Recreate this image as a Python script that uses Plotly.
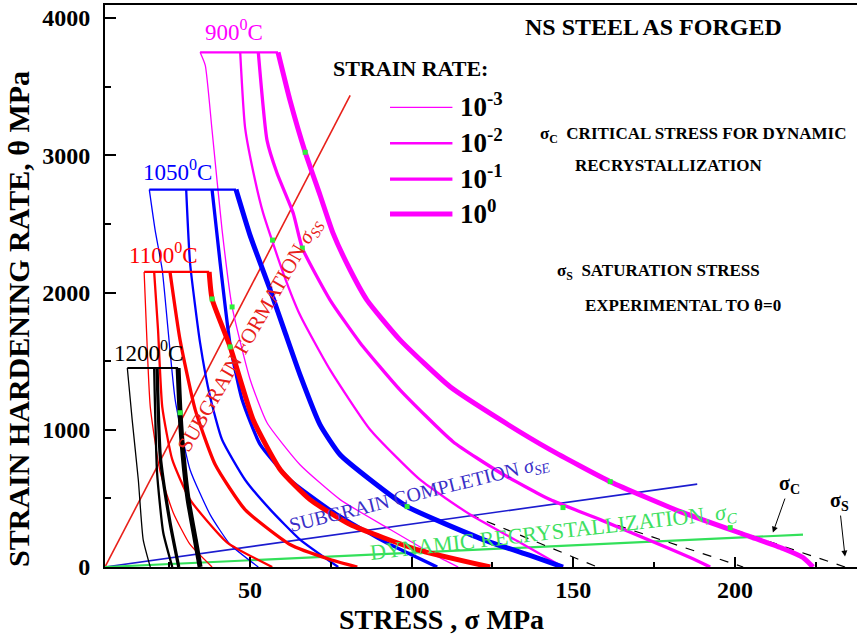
import plotly.graph_objects as go

# ---- strain hardening rate curves (stress in MPa, theta in MPa) ----
rates = ["-3", "-2", "-1", "0"]

sig_900 = [
    [34.6, 36.2, 38.3, 41.4, 44.5, 50.1, 55.3, 65.5, 77.9, 93.4, 105.7, 114.4],
    [47.0, 48.5, 51.6, 54.1, 60.3, 65.5, 74.8, 87.2, 102.6, 118.1, 133.5, 146.8],
    [52.6, 55.3, 58.4, 63.4, 66.2, 74.8, 84.1, 96.4, 112.8, 127.4, 142.8, 158.3, 173.7, 186.1, 192.3],
    [58.7, 62.4, 67.1, 71.7, 75.7, 81.0, 86.2, 96.4, 111.9, 127.4, 142.8, 161.4, 183.9, 204.6, 214.8, 221.0, 224.1],
]
th_900 = [
    [3750, 3655, 3182, 2455, 1895, 1364, 1051, 745, 491, 273, 105, 0],
    [3750, 3204, 2818, 2578, 2142, 1836, 1436, 1000, 636, 382, 178, 0],
    [3750, 3109, 2869, 2578, 2324, 1945, 1633, 1291, 913, 687, 491, 345, 193, 69, 0],
    [3750, 3400, 3022, 2709, 2433, 2164, 1945, 1655, 1313, 1073, 855, 622, 396, 222, 135, 69, 0],
]

sig_1050 = [
    [18.9, 20.7, 22.9, 24.7, 26.9, 31.5, 37.7, 43.9, 52.6],
    [30.3, 31.5, 34.6, 37.7, 41.4, 48.5, 56.3, 65.5, 77.3],
    [38.3, 40.8, 43.9, 47.6, 53.2, 62.4, 74.8, 90.3, 107.9],
    [45.7, 50.0, 56.3, 61.0, 65.5, 71.7, 77.9, 87.2, 98.6, 122.1, 136.6, 146.8],
]
th_1050 = [
    [2750, 2455, 2164, 1727, 1218, 709, 382, 164, 0],
    [2750, 2215, 1633, 1240, 927, 636, 418, 200, 0],
    [2750, 2215, 1618, 1218, 891, 636, 418, 200, 0],
    [2750, 2420, 2018, 1700, 1400, 1036, 818, 636, 440, 200, 84, 0],
]

sig_1100 = [
    [17.3, 17.9, 19.2, 22.3, 26.3, 31.5, 38.3],
    [20.4, 21.6, 22.9, 26.0, 31.5, 43.0, 56.9],
    [25.3, 28.4, 33.1, 39.3, 48.5, 62.4, 74.8, 83.2],
    [37.4, 38.3, 43.9, 51.0, 59.4, 68.6, 81.0, 101.7, 124.3],
]
th_1100 = [
    [2150, 1800, 1167, 687, 396, 164, 0],
    [2150, 1727, 1167, 782, 491, 178, 0],
    [2150, 1655, 1145, 745, 418, 164, 55, 0],
    [2150, 1953, 1604, 1073, 709, 491, 309, 127, 0],
]

sig_1200 = [
    [12.1, 13.6, 15.5, 17.0, 19.2],
    [20.4, 21.3, 23.2, 26.0],
    [21.3, 22.3, 25.3, 28.0],
    [27.8, 28.4, 29.4, 30.9, 33.1, 34.6],
]
th_1200 = [
    [1450, 1073, 636, 200, 0],
    [1450, 687, 251, 0],
    [1450, 804, 324, 0],
    [1450, 1124, 804, 491, 200, 0],
]

temps = ["900", "1050", "1100", "1200"]
temp_colors = ["#ff00ff", "#0000ff", "#ff0000", "#000000"]
sig_all = [sig_900, sig_1050, sig_1100, sig_1200]
th_all = [th_900, th_1050, th_1100, th_1200]
rate_widths = [1.3, 2.3, 3.3, 5.0]

# ---- straight reference lines from the origin ----
x_origin = 5.2
sss_end = [81.0, 3436]     # subgrain formation
sse_end = [188.3, 604]     # subgrain completion
sc_end = [221.0, 236]      # dynamic recrystallization

# ---- extrapolations to theta = 0 (dashed) ----
ext_sig = [[118.1, 157.4], [158.3, 202.5], [183.9, 234.0]]
ext_th = [[382, 0], [345, 0], [396, 0]]

# ---- critical points marked on the curves ----
crit_sig = [67.1, 161.4, 198.5, 66.2, 146.8, 57.0, 44.5, 98.6, 38.3, 43.9, 28.4]
crit_th = [3022, 622, 287, 2324, 433, 2382, 1895, 440, 1953, 1604, 1124]

fig = go.Figure()

FONT = "Liberation Serif"

# reference lines
fig.add_trace(go.Scatter(x=[x_origin, sss_end[0]], y=[0, sss_end[1]], mode="lines",
                         line=dict(color="#e8201a", width=1.6), hoverinfo="skip"))
fig.add_trace(go.Scatter(x=[x_origin, sse_end[0]], y=[0, sse_end[1]], mode="lines",
                         line=dict(color="#1c1ccf", width=1.6), hoverinfo="skip"))
fig.add_trace(go.Scatter(x=[x_origin, sc_end[0]], y=[0, sc_end[1]], mode="lines",
                         line=dict(color="#33e05a", width=2.2), hoverinfo="skip"))

for xs, ys in zip(ext_sig, ext_th):
    fig.add_trace(go.Scatter(x=xs, y=ys, mode="lines",
                             line=dict(color="black", width=1.2, dash="dash"), hoverinfo="skip"))

# temperature families
for t, col, sigs, ths in zip(temps, temp_colors, sig_all, th_all):
    # flat cap joining the curve tops
    fig.add_trace(go.Scatter(x=[sigs[0][0], sigs[3][0]], y=[ths[0][0], ths[3][0]],
                             mode="lines", line=dict(color=col, width=2.2), hoverinfo="skip"))
    for k in range(4):
        fig.add_trace(go.Scatter(x=sigs[k], y=ths[k], mode="lines",
                                 line=dict(color=col, width=rate_widths[k], shape="spline", smoothing=0.5),
                                 name=f"{t} 10^{rates[k]}", hoverinfo="skip"))

fig.add_trace(go.Scatter(x=crit_sig, y=crit_th, mode="markers",
                         marker=dict(symbol="square", size=5, color="#2ef03a"), hoverinfo="skip"))

# legend drawn as short line samples
legend_y = [0.818, 0.754, 0.690, 0.628]
shapes = []
for k in range(4):
    shapes.append(dict(type="line", xref="paper", yref="paper", x0=0.379, x1=0.462,
                       y0=legend_y[k], y1=legend_y[k], line=dict(color="#ff00ff", width=rate_widths[k])))

ann = []
def txt(x, y, s, size, color="black", bold=False, angle=0, xref="x", yref="y", xanchor="center"):
    ann.append(dict(x=x, y=y, xref=xref, yref=yref, text=s, showarrow=False, textangle=angle,
                    xanchor=xanchor, yanchor="middle",
                    font=dict(family=FONT, size=size, color=color, weight="bold" if bold else "normal")))

for k in range(4):
    txt(0.470, legend_y[k] + 0.004, f"10<sup>{rates[k]}</sup>", 27, bold=True, xref="paper", yref="paper", xanchor="left")

txt(0.171, 0.954, "900<sup>0</sup>C", 23, "#ff00ff", xref="paper", yref="paper")
txt(0.097, 0.706, "1050<sup>0</sup>C", 23, "#0000ff", xref="paper", yref="paper")
txt(0.078, 0.557, "1100<sup>0</sup>C", 23, "#ff0000", xref="paper", yref="paper")
txt(0.058, 0.383, "1200<sup>0</sup>C", 23, "#000000", xref="paper", yref="paper")

txt(0.730, 0.960, "NS STEEL AS FORGED", 24, bold=True, xref="paper", yref="paper")
txt(0.406, 0.887, "STRAIN RATE:", 22, bold=True, xref="paper", yref="paper")
txt(0.576, 0.769, "σ<sub>C</sub>  CRITICAL STRESS FOR DYNAMIC", 17, bold=True, xref="paper", yref="paper", xanchor="left")
txt(0.622, 0.714, "RECRYSTALLIZATION", 17, bold=True, xref="paper", yref="paper", xanchor="left")
txt(0.598, 0.525, "σ<sub>S</sub>  SATURATION STRESS", 17, bold=True, xref="paper", yref="paper", xanchor="left")
txt(0.636, 0.466, "EXPERIMENTAL TO θ=0", 17, bold=True, xref="paper", yref="paper", xanchor="left")

txt(50.1, 1691, "SUBGRAIN FORMATION <i>σ<sub>SS</sub></i>", 21, "#e8201a", angle=-60)
txt(102.3, 527, "SUBGRAIN COMPLETION <i>σ<sub>SE</sub></i>", 20, "#3a2fc8", angle=-14)
txt(144.0, 251, "DYNAMIC RECRYSTALLIZATION, <i>σ<sub>C</sub></i>", 22, "#3ee060", angle=-6.5)

# axis titles
txt(0.447, -0.094, "STRESS , σ MPa", 28, bold=True, xref="paper", yref="paper")
txt(-0.116, 0.441, "STRAIN HARDENING RATE, θ MPa", 30, bold=True, angle=-90, xref="paper", yref="paper")

# arrows to the extrapolated stresses
ann.append(dict(x=211.7, y=251, ax=17, ay=-48, xref="x", yref="y", text="σ<sub>C</sub>",
                showarrow=True, arrowhead=2, arrowsize=1.2, arrowwidth=1, arrowcolor="black",
                font=dict(family=FONT, size=20, color="black", weight="bold")))
ann.append(dict(x=234.0, y=76, ax=-6, ay=-55, xref="x", yref="y", text="σ<sub>S</sub>",
                showarrow=True, arrowhead=2, arrowsize=1.2, arrowwidth=1, arrowcolor="black",
                font=dict(family=FONT, size=20, color="black", weight="bold")))

fig.update_layout(
    width=857, height=639,
    margin=dict(l=105, r=0, t=5, b=72),
    paper_bgcolor="white", plot_bgcolor="white",
    showlegend=False,
    shapes=shapes, annotations=ann,
    xaxis=dict(range=[5.2, 237.7], showgrid=False, zeroline=False,
               showline=True, linecolor="black", linewidth=2, mirror=True,
               ticks="inside", ticklen=10, tickwidth=1.5, tickcolor="black",
               tickvals=[50, 100, 150, 200],
               minor=dict(ticks="inside", tickvals=[25, 75, 125, 175, 225], ticklen=5, tickwidth=1.5, tickcolor="black"),
               tickfont=dict(family=FONT, size=24, color="black", weight="bold"),
               ticklabelstandoff=0),
    yaxis=dict(range=[0, 4095], showgrid=False, zeroline=False,
               showline=True, linecolor="black", linewidth=2,
               ticks="inside", ticklen=11, tickwidth=1.5, tickcolor="black",
               tickvals=[0, 1000, 2000, 3000, 4000],
               minor=dict(ticks="inside", tickvals=[500, 1500, 2500, 3500], ticklen=6, tickwidth=1.5, tickcolor="black"),
               tickfont=dict(family=FONT, size=24, color="black", weight="bold"),
               ticklabelstandoff=8),
)

fig.write_html("out.html")
